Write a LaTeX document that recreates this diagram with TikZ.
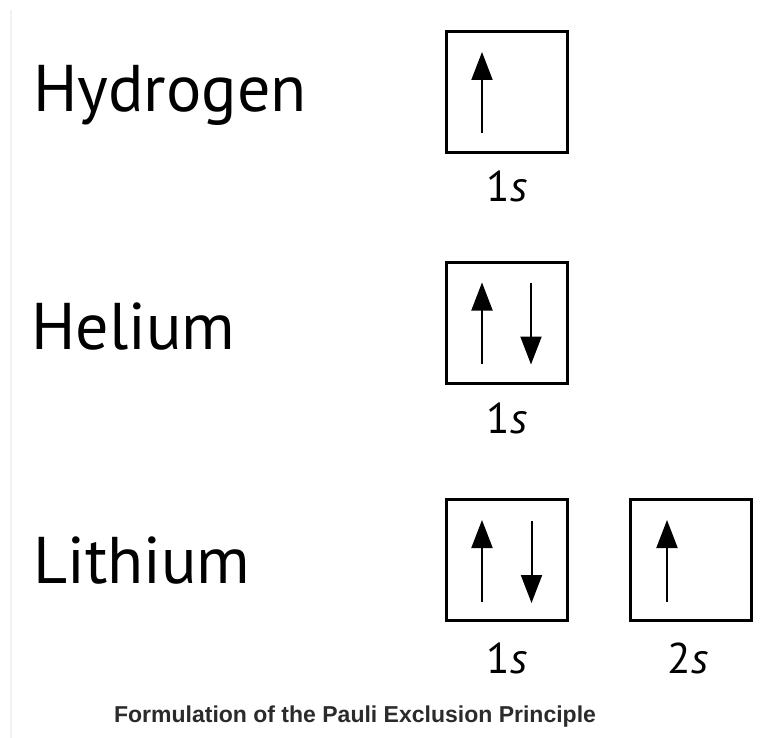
\documentclass[tikz,border=0pt]{standalone}
\usepackage{fontspec}
\setmainfont{PT Sans}
\newfontfamily\capfont{Liberation Sans}
\usetikzlibrary{arrows.meta,calc}
\definecolor{capgray}{HTML}{2B2B2B}
\begin{document}
\begin{tikzpicture}[x=1pt,y=-1pt,
 orb/.style={draw,line width=3pt,minimum width=121pt,minimum height=121pt,inner sep=0pt},
 spin/.style={line width=2pt,-{Triangle[length=28pt,width=21pt]}},
 elem/.style={anchor=base west,font=\fontsize{66}{66}\selectfont,inner sep=0pt},
 lbl/.style={anchor=base,font=\fontsize{43}{43}\selectfont,inner sep=0pt}]
\useasboundingbox[fill=white] (0,0) rectangle (763,738);
\draw[black!5,line width=1.5pt] (11,10) -- (11,738);
% element names
\node[elem] (hyd) at (33,112) {Hydrogen};
\node[elem] (hel) at (31,349) {Helium};
\node[elem] (lit) at (33,583) {Lithium};
% orbital boxes
\node[orb] (h1) at (506.5,92.5) {};
\node[orb] (he1) at (506.5,323) {};
\node[orb] (li1) at (507,560) {};
\node[orb] (li2) at (691,560) {};
% spins
\coordinate (h1a) at ($(h1)+(-24.5,40.5)$);
\coordinate (h1b) at ($(h1)+(-24.5,-40.5)$);
\draw[spin] (h1a) -- (h1b);
\coordinate (he1a) at ($(he1)+(-24.5,40.5)$);
\coordinate (he1b) at ($(he1)+(-24.5,-40.5)$);
\coordinate (he1c) at ($(he1)+(24.5,-40.5)$);
\coordinate (he1d) at ($(he1)+(24.5,41.5)$);
\draw[spin] (he1a) -- (he1b);
\draw[spin] (he1c) -- (he1d);
\coordinate (li1a) at ($(li1)+(-25,41.5)$);
\coordinate (li1b) at ($(li1)+(-25,-40)$);
\coordinate (li1c) at ($(li1)+(24.5,-39)$);
\coordinate (li1d) at ($(li1)+(24.5,43)$);
\draw[spin] (li1a) -- (li1b);
\draw[spin] (li1c) -- (li1d);
\coordinate (li2a) at ($(li2)+(-24,41.5)$);
\coordinate (li2b) at ($(li2)+(-24,-40)$);
\draw[spin] (li2a) -- (li2b);
% labels
\node[lbl] (h1l) at (507,202) {1\textit{s}};
\node[lbl] (he1l) at (507,433) {1\textit{s}};
\node[lbl] (li1l) at (507,673) {1\textit{s}};
\node[lbl] (li2l) at (688,673) {2\textit{s}};
% caption
\node[anchor=base,inner sep=0pt,text=capgray,font=\capfont\bfseries\fontsize{23}{23}\selectfont] (cap) at (355,722) {Formulation of the Pauli Exclusion Principle};
\end{tikzpicture}
\end{document}
